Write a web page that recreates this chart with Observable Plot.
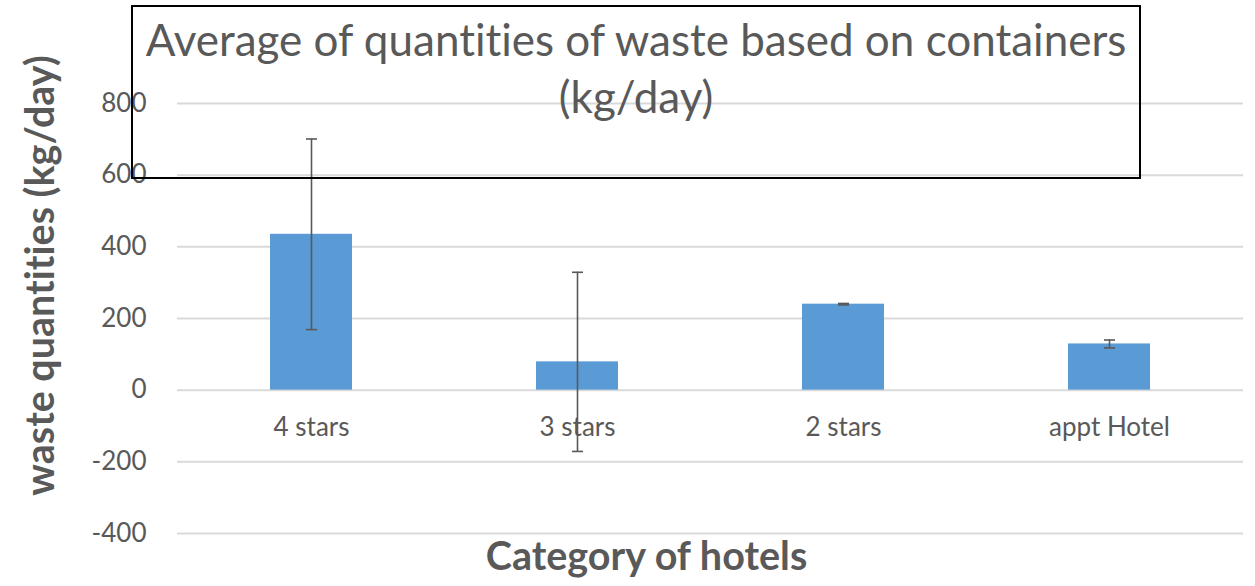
<!DOCTYPE html>
<html>
<head>
<meta charset="utf-8">
<script src="https://cdn.jsdelivr.net/npm/d3@7"></script>
<script src="https://cdn.jsdelivr.net/npm/@observablehq/plot@0.6"></script>
<style>
  html, body { margin: 0; padding: 0; background: #fff; }
  #wrap { position: relative; width: 1255px; height: 586px; overflow: hidden; }
  #chart svg text { font-variant-ligatures: none; }
  #titlebox {
    position: absolute; left: 131px; top: 5px; width: 1010px; height: 174px;
    border: 2px solid #000; background: transparent; box-sizing: border-box;
    font-family: Lato, "Open Sans", sans-serif; font-size: 44px; color: #595959;
    text-align: center; line-height: 57px; padding-top: 3.5px; white-space: nowrap;
    font-variant-ligatures: none;
  }
</style>
</head>
<body>
<div id="wrap">
  <div id="chart"></div>
  <div id="titlebox">Average of quantities of waste based on containers<br>(kg/day)</div>
</div>
<script>
const categories = ["4 stars", "3 stars", "2 stars", "appt Hotel"];
const means = [435, 79, 240, 129];
const errors = [266, 250, 2, 11];
const yTicks = [-400, -200, 0, 200, 400, 600, 800];
const yLabel = "waste quantities (kg/day)";
const xLabel = "Category of hotels";

const data = categories.map((c, i) => ({cat: c, v: means[i], lo: means[i] - errors[i], hi: means[i] + errors[i]}));

const font = "Lato, 'Open Sans', sans-serif";
const grey = "#595959";

// horizontal cap symbol for error bars
const capSymbol = {
  draw(context, size) {
    const w = Math.sqrt(size / Math.PI);
    context.moveTo(-w, 0);
    context.lineTo(w, 0);
  }
};

const chart = Plot.plot({
  width: 1255,
  height: 586,
  marginLeft: 177,
  marginRight: 12,
  marginTop: 103,
  marginBottom: 53,
  style: {fontFamily: font, background: "#fff", overflow: "visible"},
  x: {type: "band", domain: categories, paddingInner: 0.69, paddingOuter: 0.345, axis: null},
  y: {domain: [-400, 800], ticks: yTicks, axis: null},
  marks: [
    Plot.gridY(yTicks, {stroke: "#d9d9d9", strokeOpacity: 1, strokeWidth: 2}),
    Plot.axisY(yTicks, {tickSize: 0, tickPadding: 31, fontSize: 26, fill: grey, tickFormat: d => d < 0 ? "-" + Math.abs(d) : String(d), label: null}),
    Plot.barY(data, {x: "cat", y: "v", fill: "#5B9BD5"}),
    Plot.ruleX(data, {x: "cat", y1: "lo", y2: "hi", stroke: grey, strokeWidth: 1.6}),
    Plot.dot(data, {x: "cat", y: "lo", symbol: capSymbol, r: 5.5, fill: "none", stroke: grey, strokeWidth: 1.6}),
    Plot.dot(data, {x: "cat", y: "hi", symbol: capSymbol, r: 5.5, fill: "none", stroke: grey, strokeWidth: 1.6}),
    Plot.text(categories, {x: d => d, y: 0, dy: 38, text: d => d, fontSize: 26, fill: grey}),
    Plot.text([yLabel], {frameAnchor: "left", text: d => d, rotate: -90, textAnchor: "middle", lineAnchor: "middle", dx: -136, dy: -43, fontSize: 39.5, fontWeight: "bold", fill: grey}),
    Plot.text([xLabel], {frameAnchor: "bottom", text: d => d, textAnchor: "middle", lineAnchor: "middle", dx: -64, dy: 24, fontSize: 39.5, fontWeight: "bold", fill: grey})
  ]
});
document.getElementById("chart").appendChild(chart);
</script>
</body>
</html>
